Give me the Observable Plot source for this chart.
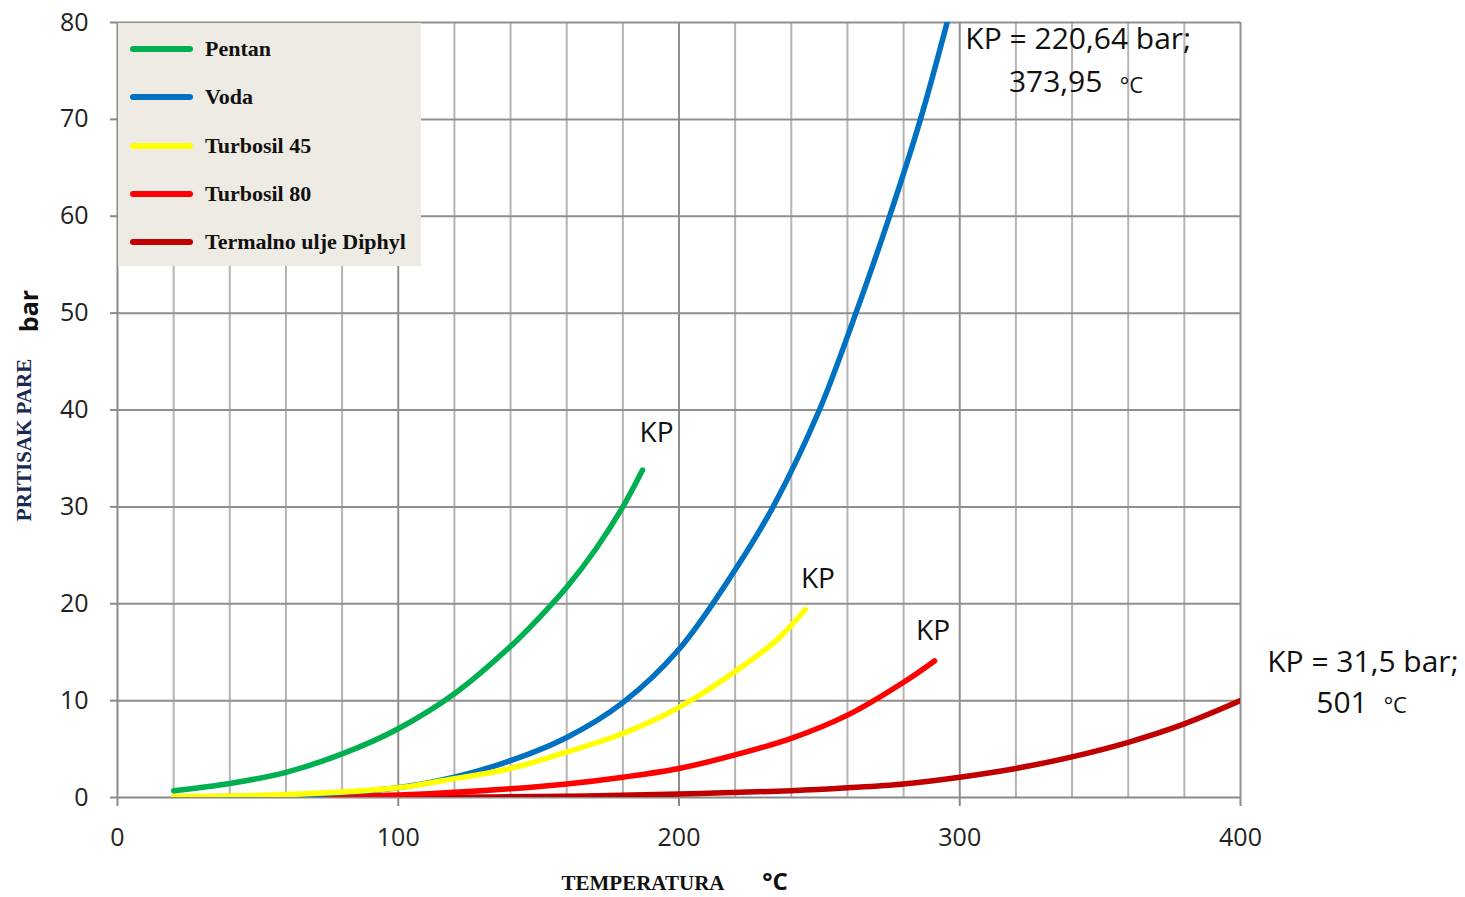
<!DOCTYPE html>
<html>
<head>
<meta charset="utf-8">
<script src="https://cdn.jsdelivr.net/npm/d3@7"></script>
<script src="https://cdn.jsdelivr.net/npm/@observablehq/plot@0.6"></script>
<style>
  body { margin: 0; background: #fff; }
  #wrap { position: relative; width: 1465px; height: 897px; }
  #legend { position: absolute; left: 118px; top: 23px; width: 303px; height: 243px; background: #EEEBE5; }
  .li { position: absolute; left: 12px; height: 24px; display: flex; align-items: center; }
  .sw { width: 63px; height: 6px; border-radius: 3px; margin-right: 12px; }
  .lt { font-family: "Liberation Serif", serif; font-weight: bold; font-size: 22px; color: #111; white-space: nowrap; }
</style>
</head>
<body>
<div id="wrap"></div>
<script>
// ---- data ----
const seriesNames = ["Pentan", "Voda", "Turbosil 45", "Turbosil 80", "Termalno ulje Diphyl"];
const seriesColors = ["#00B050", "#0070C0", "#FFFF00", "#FF0000", "#C00000"];

const pentanT = [20, 40, 60, 80, 100, 120, 140, 150, 160, 170, 180, 187];
const pentanP = [0.7, 1.45, 2.6, 4.5, 7.1, 10.7, 15.6, 18.5, 21.7, 25.5, 30.0, 33.8];

const vodaT = [20, 40, 60, 80, 100, 120, 140, 160, 180, 200, 220, 233.5, 250, 263, 275, 286, 295.5];
const vodaP = [0.05, 0.1, 0.2, 0.5, 1.0, 2.1, 3.8, 6.2, 9.8, 15.3, 23.5, 30, 40, 50, 60, 70, 80];

const t45T = [20, 60, 100, 116, 140, 160, 180, 200, 220, 235, 245];
const t45P = [0.1, 0.3, 1.0, 1.75, 3.0, 4.7, 6.6, 9.3, 13.0, 16.3, 19.4];

const t80T = [20, 60, 100, 140, 160, 180, 200, 220, 240, 260, 280, 291];
const t80P = [0, 0.05, 0.25, 0.9, 1.4, 2.1, 3.0, 4.4, 6.1, 8.5, 11.9, 14.1];

const diphylT = [20, 100, 150, 200, 240, 260, 280, 300, 320, 340, 360, 380, 400];
const diphylP = [0, 0.02, 0.1, 0.35, 0.7, 1.0, 1.4, 2.1, 3.0, 4.2, 5.7, 7.6, 10];

const xTicks = [0, 100, 200, 300, 400];
const yTicks = [0, 10, 20, 30, 40, 50, 60, 70, 80];
const xMinorGrid = [20, 40, 60, 80, 120, 140, 160, 180, 220, 240, 260, 280, 320, 340, 360, 380];

// annotation texts and anchor points (data units)
const kpLabels = [
  {t: 192, p: 37.6, text: "KP"},
  {t: 249.5, p: 22.6, text: "KP"},
  {t: 290.5, p: 17.2, text: "KP"}
];
const kpWaterLines = [
  {t: 302, p: 78.3, text: "KP = 220,64 bar;", size: 30},
  {t: 317.5, p: 73.8, text: "373,95", size: 30},
  {t: 357, p: 73.5, text: "°C", size: 22}
];
const kpDiphylLines = [
  {t: 409.5, p: 13.9, text: "KP = 31,5 bar;", size: 30},
  {t: 427, p: 9.7, text: "501", size: 30},
  {t: 451, p: 9.5, text: "°C", size: 22}
];

// ---- build table ----
const allT = [pentanT, vodaT, t45T, t80T, diphylT];
const allP = [pentanP, vodaP, t45P, t80P, diphylP];
const rows = [];
allT.forEach((ts, i) => ts.forEach((t, j) => rows.push({series: seriesNames[i], t, p: allP[i][j]})));
const drawOrder = ["Termalno ulje Diphyl", "Turbosil 80", "Voda", "Turbosil 45", "Pentan"];

const font = "'Open Sans', sans-serif";

const plot = Plot.plot({
  width: 1465,
  height: 897,
  marginLeft: 117,
  marginRight: 225,
  marginTop: 22,
  marginBottom: 100,
  style: {fontFamily: font, fontSize: "25px", color: "#222", background: "#fff"},
  x: {domain: [0, 400]},
  y: {domain: [0, 80]},
  color: {domain: seriesNames, range: seriesColors},
  marks: [
    Plot.ruleX(xMinorGrid, {stroke: "#b4b4b4", strokeWidth: 2}),
    Plot.ruleX(xTicks.slice(1), {stroke: "#8f8f8f", strokeWidth: 2}),
    Plot.ruleY(yTicks.slice(1), {stroke: "#8f8f8f", strokeWidth: 2}),
    Plot.ruleX([0], {stroke: "#8a8a8a", strokeWidth: 2}),
    Plot.ruleY([0], {stroke: "#8a8a8a", strokeWidth: 2}),
    Plot.axisX({ticks: xTicks, tickSize: 9, tickPadding: 22, stroke: "#8a8a8a", strokeWidth: 2, label: null, fontSize: 25}),
    Plot.axisY({ticks: yTicks, tickSize: 7, tickPadding: 22, stroke: "#8a8a8a", strokeWidth: 2, label: null, fontSize: 25}),
    ...drawOrder.map(name => Plot.line(rows.filter(d => d.series === name), {
      x: "t", y: "p", stroke: "series", strokeWidth: 5.5, strokeLinecap: "round",
      curve: "catmull-rom", clip: true
    })),
    Plot.text(kpLabels, {x: "t", y: "p", text: "text", fontSize: 28, fill: "#111", textAnchor: "middle"}),
    Plot.text(kpWaterLines, {x: "t", y: "p", text: "text", fontSize: d => d.size, fill: "#111", textAnchor: "start"}),
    Plot.text(kpDiphylLines, {x: "t", y: "p", text: "text", fontSize: d => d.size, fill: "#111", textAnchor: "start"})
  ]
});

const wrap = document.getElementById("wrap");
wrap.appendChild(plot);

// axis titles
const svg = d3.select(plot);
svg.append("text").attr("x", 643).attr("y", 890).attr("text-anchor", "middle")
  .style("font-family", "'Liberation Serif', serif").style("font-weight", "bold").style("font-size", "21px")
  .attr("fill", "#111").text("TEMPERATURA");
svg.append("text").attr("x", 775).attr("y", 890).attr("text-anchor", "middle")
  .style("font-family", font).style("font-weight", "bold").style("font-size", "24px")
  .attr("fill", "#111").text("°C");
svg.append("text").attr("transform", "translate(31,440) rotate(-90)").attr("text-anchor", "middle")
  .style("font-family", "'Liberation Serif', serif").style("font-weight", "bold").style("font-size", "21px")
  .attr("fill", "#1a2a50").text("PRITISAK PARE");
svg.append("text").attr("transform", "translate(38,311) rotate(-90)").attr("text-anchor", "middle")
  .style("font-family", font).style("font-weight", "bold").style("font-size", "25px")
  .attr("fill", "#111").text("bar");

// legend
const legend = document.createElement("div");
legend.id = "legend";
seriesNames.forEach((name, i) => {
  const item = document.createElement("div");
  item.className = "li";
  item.style.top = (14 + i * 48.3) + "px";
  const sw = document.createElement("div");
  sw.className = "sw";
  sw.style.background = seriesColors[i];
  const lt = document.createElement("div");
  lt.className = "lt";
  lt.textContent = name;
  item.appendChild(sw);
  item.appendChild(lt);
  legend.appendChild(item);
});
wrap.appendChild(legend);
</script>
</body>
</html>
